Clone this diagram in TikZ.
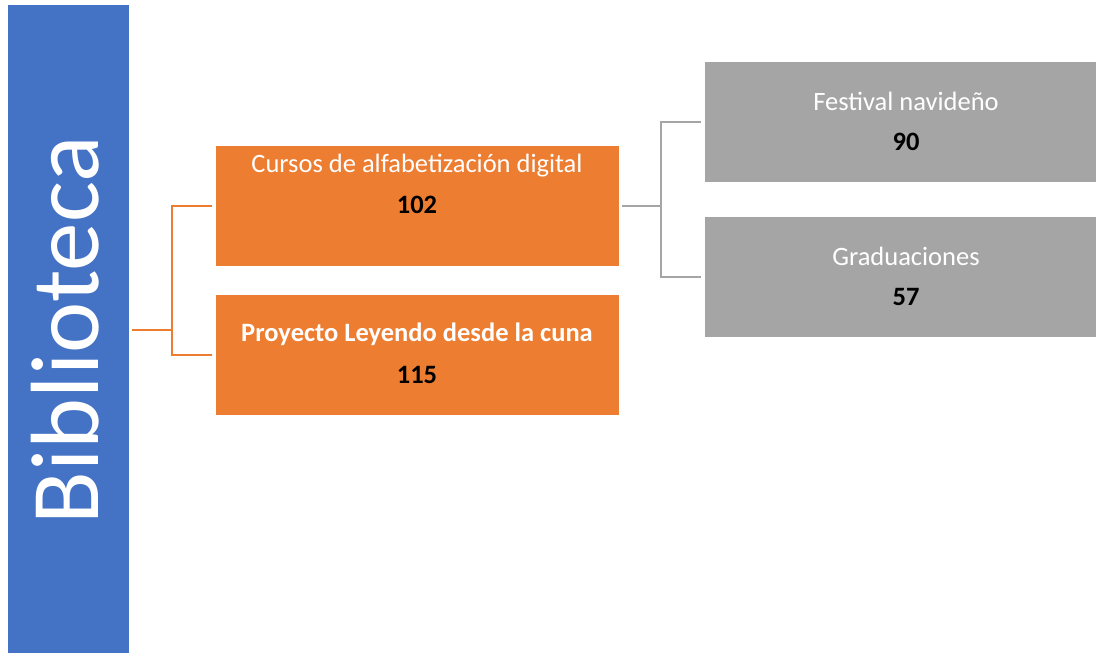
\documentclass[tikz,border=0pt]{standalone}
\usepackage{fontspec}
\setmainfont{Carlito}
\definecolor{sblue}{HTML}{4472C4}
\definecolor{sorange}{HTML}{ED7D31}
\definecolor{sgray}{HTML}{A5A5A5}
\begin{document}
\begin{tikzpicture}[x=1pt,y=-1pt,
 box/.style={draw=white, line width=0.8pt, minimum width=404pt, minimum height=121pt, inner sep=0pt, outer sep=0pt},
 obox/.style={box, fill=sorange},
 gbox/.style={box, fill=sgray},
 ttl/.style={text=white, font=\fontsize{26.5}{30}\selectfont, anchor=base, inner sep=0pt},
 num/.style={text=black, font=\fontsize{26.5}{30}\selectfont\bfseries, anchor=base, inner sep=0pt},
 oline/.style={draw=sorange, line width=2pt},
 gline/.style={draw=sgray, line width=2pt}]
\useasboundingbox (0,0) rectangle (1096,653);
% root
\node[fill=sblue, minimum width=121pt, minimum height=650pt, inner sep=0pt, outer sep=0pt, anchor=north west] (bib) at (8,5) {};
\node[rotate=90, anchor=base, text=white, font=\fontsize{97}{97}\selectfont, inner sep=0pt] (bibt) at (98,330) {Biblioteca};
% orange boxes
\node[obox] (c1) at (417,205.5) {};
\node[obox] (c2) at (417,355) {};
\node[ttl] (c1t) at (417,172.7) {Cursos de alfabetización digital};
\node[num] (c1n) at (417,213) {102};
\node[ttl, font=\fontsize{26.5}{30}\selectfont\bfseries] (c2t) at (417,341.7) {Proyecto Leyendo desde la cuna};
\node[num] (c2n) at (417,383) {115};
% gray boxes
\node[gbox] (g1) at (906,122) {};
\node[gbox] (g2) at (906,277) {};
\node[ttl] (g1t) at (906,110) {Festival navideño};
\node[num] (g1n) at (906,150) {90};
\node[ttl] (g2t) at (906,265) {Graduaciones};
\node[num] (g2n) at (906,305) {57};
% connectors
\draw[oline] ([xshift=3pt]bib.east) -- ++(40,0) coordinate (oj);
\draw[oline] ([xshift=-3pt]c1.west) -| (oj) |- ([xshift=-3pt]c2.west);
\draw[gline] ([xshift=3pt]c1.east) -- ++(39,0) coordinate (gj);
\draw[gline] ([xshift=-3pt]g1.west) -| (gj) |- ([xshift=-3pt]g2.west);
\end{tikzpicture}
\end{document}
